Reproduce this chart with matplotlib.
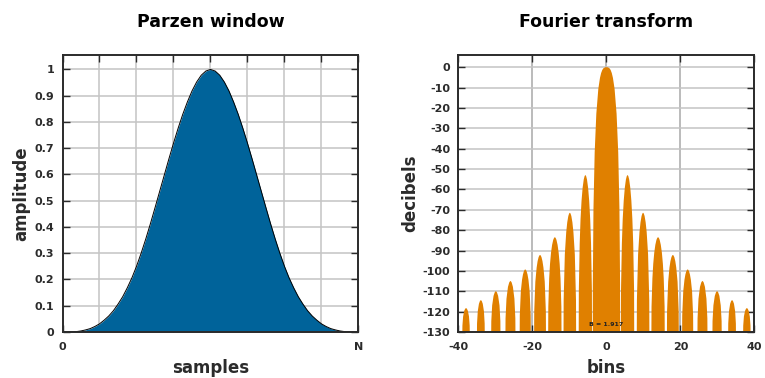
import numpy as np
import matplotlib
matplotlib.use("Agg")
import matplotlib.pyplot as plt
from matplotlib.path import Path
from matplotlib.patches import PathPatch

plt.rcParams['axes.unicode_minus'] = False

# window amplitude, from the centre out to the edge (symmetric),
# at steps of N/64
window_half = [1.0, 0.994, 0.978, 0.952, 0.918, 0.876, 0.829, 0.776, 0.719,
               0.659, 0.597, 0.535, 0.473, 0.412, 0.354, 0.300, 0.25,
               0.206, 0.168, 0.134, 0.106, 0.081, 0.061, 0.045, 0.031,
               0.021, 0.013, 0.008, 0.004, 0.0016, 0.0005, 0.0001, 0]
window_amp = window_half[::-1] + window_half[1:]
window_pos = np.linspace(0, 1, len(window_amp))

# spectrum lobes (positive side, mirrored): peak bin, peak dB, half width at -130 dB
main_half_width = 3.7
lobe_peak_bin = [5.7, 9.9, 13.95, 17.95, 21.95, 25.95, 29.9, 33.95, 37.95]
lobe_peak_db = [-53, -71.5, -83.5, -92.2, -99.3, -105, -110, -114.4, -118.3]
lobe_half_width = [1.8, 1.7, 1.8, 1.6, 1.5, 1.35, 1.25, 1.05, 1.0]
floor_db = -130

blue = '#00639a'
orange = '#e08000'
dark = '#2b2b2b'
gridc = '#c4c4c4'

fig = plt.figure(figsize=(7.65, 3.78), dpi=100)
ax1 = fig.add_axes([0.0817, 0.1217, 0.3869, 0.7328])
ax2 = fig.add_axes([0.5993, 0.1217, 0.3869, 0.7328])


def style(ax):
    for s in ax.spines.values():
        s.set_color(dark)
        s.set_linewidth(1.4)
    ax.tick_params(direction='in', length=5, width=1, color=dark,
                   top=True, right=True, labelsize=8, labelcolor=dark)
    ax.tick_params(axis='y', pad=6)
    ax.tick_params(axis='x', pad=7)
    for lab in ax.get_xticklabels() + ax.get_yticklabels():
        lab.set_fontweight('bold')
    ax.grid(True, color=gridc, linewidth=1.1)
    ax.set_axisbelow(True)


# left: window
ax1.fill_between(window_pos, window_amp, 0, color=blue, lw=0)
ax1.plot(window_pos, window_amp, color='black', lw=0.7)
ax1.set_xlim(0, 1)
ax1.set_ylim(0, 1.055)
ax1.set_xticks(np.linspace(0, 1, 9))
ax1.set_xticklabels(['0', '', '', '', '', '', '', '', 'N'])
ax1.set_yticks(np.arange(0, 1.01, 0.1))
ax1.set_yticklabels(['0', '0.1', '0.2', '0.3', '0.4', '0.5', '0.6', '0.7', '0.8', '0.9', '1'])
style(ax1)
ax1.set_title('Parzen window', fontsize=12.5, fontweight='bold', pad=20)
ax1.set_xlabel('samples', fontsize=12, fontweight='bold', color=dark, va='center')
ax1.set_ylabel('amplitude', fontsize=12, fontweight='bold', color=dark, va='center')
ax1.xaxis.set_label_coords(0.5, -0.13)
ax1.yaxis.set_label_coords(-0.1385, 0.5)


# right: spectrum, each lobe drawn as a bezier arch
def lobe(ax, left, peak_x, right, peak_y, a, b):
    h = peak_y - floor_db
    verts = [(left, floor_db),
             (left, floor_db + a * h), (peak_x - b * (peak_x - left), peak_y), (peak_x, peak_y),
             (peak_x + b * (right - peak_x), peak_y), (right, floor_db + a * h), (right, floor_db),
             (left, floor_db)]
    codes = [Path.MOVETO] + [Path.CURVE4] * 6 + [Path.CLOSEPOLY]
    ax.add_patch(PathPatch(Path(verts, codes), facecolor=orange, edgecolor='none'))


lobe(ax2, -main_half_width, 0, main_half_width, 0, 1.0, 0.45)
for pk, db, w in zip(lobe_peak_bin, lobe_peak_db, lobe_half_width):
    lobe(ax2, pk - w, pk, pk + w, db, 0.75, 0.4)
    lobe(ax2, -pk - w, -pk, -pk + w, db, 0.75, 0.4)

ax2.set_xlim(-40, 40)
ax2.set_ylim(-130, 6)
ax2.set_xticks(np.arange(-40, 41, 20))
ax2.set_yticks(np.arange(-130, 1, 10))
style(ax2)
ax2.grid(axis='x', color='#a8a8a8')
ax2.text(0, -126.5, 'B = 1.917', fontsize=4.5, fontweight='bold', color='#222222',
         ha='center', va='center')
ax2.set_title('Fourier transform', fontsize=12.5, fontweight='bold', pad=20)
ax2.set_xlabel('bins', fontsize=12, fontweight='bold', color=dark, va='center')
ax2.set_ylabel('decibels', fontsize=12, fontweight='bold', color=dark, va='center')
ax2.xaxis.set_label_coords(0.5, -0.13)
ax2.yaxis.set_label_coords(-0.164, 0.5)

fig.savefig('out.png', dpi=100)
